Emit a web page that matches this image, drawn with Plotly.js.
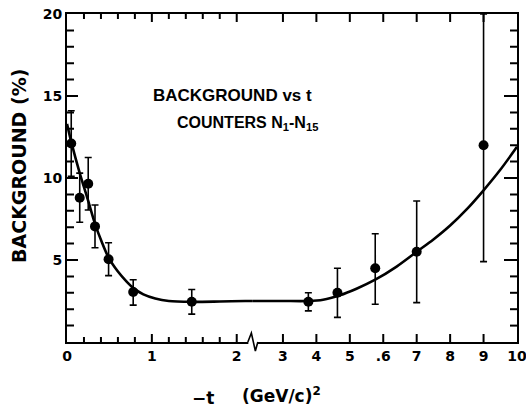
<!DOCTYPE html>
<html>
<head>
<meta charset="utf-8">
<script src="https://cdn.plot.ly/plotly-3.0.1.min.js"></script>
<style>
  html, body { margin: 0; padding: 0; background: #fff; }
  #plot { width: 526px; height: 413px; }
</style>
</head>
<body>
<div id="plot"></div>
<script>
// Measured background fraction vs momentum transfer -t, counters N1-N15
const t      = [0.05, 0.15, 0.25, 0.33, 0.49, 0.78, 1.47, 3.76, 4.63, 5.76, 7.0, 9.0];
const bg     = [12.1, 8.8, 9.65, 7.05, 5.05, 3.05, 2.45, 2.45, 3.0, 4.5, 5.5, 12.0];
const errHi  = [2.0, 1.5, 1.6, 1.3, 1.0, 0.75, 0.75, 0.55, 1.5, 2.1, 3.1, 8.0];
const errLo  = [2.0, 1.5, 1.6, 1.3, 1.0, 0.8, 0.75, 0.55, 1.5, 2.2, 3.1, 7.1];

// Smooth hand fit through the points
const fitT  = [0, 0.05, 0.15, 0.25, 0.33, 0.41, 0.49, 0.6, 0.7, 0.78, 0.9, 1.04, 1.2, 1.47, 1.8, 2.1, 2.2,
               3.0, 3.76, 4.2, 4.7, 5.2, 5.76, 6.4, 7.0, 7.5, 8.0, 8.5, 9.0, 9.5, 10.0];
const fitBg = [13.3, 12.2, 10.3, 8.6, 7.2, 6.1, 5.15, 4.3, 3.7, 3.3, 2.9, 2.65, 2.5, 2.45, 2.47, 2.5, 2.5,
               2.5, 2.5, 2.58, 2.85, 3.25, 3.8, 4.6, 5.5, 6.25, 7.1, 8.1, 9.25, 10.5, 11.9];

// Tick labels
const yTickVals = [5, 10, 15, 20];
const yTickText = ['5', '10', '15', '20'];
const xLowTickVals = [0, 1, 2];
const xLowTickText = ['0', '1', '2'];
const xHighTickVals = [3, 4, 5, 6, 7, 8, 9, 10];
const xHighTickText = ['3', '4', '5', '.6', '7', '8', '9', '10'];

// Broken x axis: low segment [0, 2.19], high segment [2.1, 10]
const LOW_MAX = 2.19, HIGH_MIN = 2.1, X_MAX = 10, Y_MAX = 20, SPLIT = 0.413;

const W = 526, H = 413, M = { l: 67, r: 9, t: 14, b: 71 };
const PW = W - M.l - M.r, PH = H - M.t - M.b;
const px = x => (x - M.l) / PW;
const py = y => (H - M.b - y) / PH;

function pick(arr, idx) { return idx.map(i => arr[i]); }
const idxLow  = t.map((v, i) => i).filter(i => t[i] < LOW_MAX);
const idxHigh = t.map((v, i) => i).filter(i => t[i] >= LOW_MAX);
const fitLow  = fitT.map((v, i) => i).filter(i => fitT[i] <= 2.2);
const fitHigh = fitT.map((v, i) => i).filter(i => fitT[i] >= 2.1);

function pointsTrace(idx, xa, ya) {
  return {
    x: pick(t, idx), y: pick(bg, idx), xaxis: xa, yaxis: ya,
    type: 'scatter', mode: 'markers',
    marker: { color: '#000', size: 10 },
    error_y: { type: 'data', symmetric: false, array: pick(errHi, idx), arrayminus: pick(errLo, idx),
               color: '#000', thickness: 1.6, width: 3.5 }
  };
}
function fitTrace(idx, xa, ya) {
  return {
    x: pick(fitT, idx), y: pick(fitBg, idx), xaxis: xa, yaxis: ya,
    type: 'scatter', mode: 'lines',
    line: { color: '#000', width: 2.6, shape: 'spline', smoothing: 0.8 }
  };
}

// Inward tick marks on all four sides, laid out on each segment's own scale
const yPerPx = Y_MAX / PH;
const xLowPerPx = LOW_MAX / (SPLIT * PW);
const xHighPerPx = (X_MAX - HIGH_MIN) / ((1 - SPLIT) * PW);
function tickTrace(xa, ya) {
  return { x: [], y: [], xaxis: xa, yaxis: ya, type: 'scatter', mode: 'lines',
           line: { color: '#000', width: 2 }, hoverinfo: 'skip' };
}
const ticksLow = tickTrace('x', 'y');
const ticksHigh = tickTrace('x2', 'y2');
function seg(tr, x0, y0, x1, y1) { tr.x.push(x0, x1, null); tr.y.push(y0, y1, null); }
for (let k = 1; k * 0.2 < LOW_MAX; k++) {
  const v = Math.round(k * 2) / 10, l = (k % 5 === 0 ? 8 : 5) * yPerPx;
  seg(ticksLow, v, 0, v, l);
  seg(ticksLow, v, Y_MAX, v, Y_MAX - l);
}
xHighTickVals.filter(v => v < X_MAX).forEach(v => {
  const l = 8 * yPerPx;
  seg(ticksHigh, v, 0, v, l);
  seg(ticksHigh, v, Y_MAX, v, Y_MAX - l);
});
for (let v = 1; v < Y_MAX; v++) {
  seg(ticksLow, 0, v, (v % 5 === 0 ? 11 : 7) * xLowPerPx, v);
  seg(ticksHigh, X_MAX, v, X_MAX - (v % 5 === 0 ? 13 : 7) * xHighPerPx, v);
}

const data = [
  ticksLow, ticksHigh,
  fitTrace(fitLow, 'x', 'y'),
  fitTrace(fitHigh, 'x2', 'y2'),
  pointsTrace(idxLow, 'x', 'y'),
  pointsTrace(idxHigh, 'x2', 'y2')
];

const FONT = 'DejaVu Sans';
const axisBase = {
  showline: true, linecolor: '#000', linewidth: 2,
  showgrid: false, zeroline: false, ticks: '',
  ticklabeloverflow: 'allow',
  tickfont: { family: FONT, size: 14, color: '#000', weight: 'bold' }
};

// axis-break zigzag on the bottom axis
const bx = M.l + SPLIT * PW;
const zig = [[bx - 5, 342], [bx - 1.5, 333], [bx + 2.5, 351], [bx + 5, 342]];
const zigPath = 'M ' + zig.map(p => px(p[0]).toFixed(4) + ',' + py(p[1]).toFixed(4)).join(' L ');

const layout = {
  width: W, height: H,
  margin: M,
  showlegend: false,
  xaxis: Object.assign({}, axisBase, {
    domain: [0, SPLIT], range: [0, LOW_MAX], anchor: 'y', mirror: true,
    tickmode: 'array', tickvals: xLowTickVals, ticktext: xLowTickText
  }),
  xaxis2: Object.assign({}, axisBase, {
    domain: [SPLIT, 1], range: [HIGH_MIN, X_MAX], anchor: 'y2', mirror: true,
    tickmode: 'array', tickvals: xHighTickVals, ticktext: xHighTickText
  }),
  yaxis: Object.assign({}, axisBase, {
    domain: [0, 1], range: [0, Y_MAX], anchor: 'x', side: 'left',
    tickmode: 'array', tickvals: yTickVals, ticktext: yTickText
  }),
  yaxis2: Object.assign({}, axisBase, {
    domain: [0, 1], range: [0, Y_MAX], anchor: 'x2', side: 'right',
    showticklabels: false
  }),
  shapes: [
    { type: 'rect', xref: 'paper', yref: 'paper', layer: 'above',
      x0: px(bx - 4.5), x1: px(bx + 4.5), y0: py(344), y1: py(340),
      fillcolor: '#fff', line: { width: 0 } },
    { type: 'path', xref: 'paper', yref: 'paper', layer: 'above',
      path: zigPath, line: { color: '#000', width: 1.6 } }
  ],
  annotations: [
    { text: 'BACKGROUND vs t', xref: 'paper', yref: 'paper',
      x: px(151), y: py(95), xanchor: 'left', yanchor: 'middle', showarrow: false,
      font: { family: 'Liberation Sans', size: 17, color: '#000', weight: 'bold' } },
    { text: 'COUNTERS N<sub>1</sub>-N<sub>15</sub>', xref: 'paper', yref: 'paper',
      x: px(175), y: py(124), xanchor: 'left', yanchor: 'middle', showarrow: false,
      font: { family: 'Liberation Sans', size: 16, color: '#000', weight: 'bold' } },
    { text: 'BACKGROUND (%)', xref: 'paper', yref: 'paper', textangle: -90,
      x: px(19), y: py(166), xanchor: 'center', yanchor: 'middle', showarrow: false,
      font: { family: FONT, size: 19, color: '#000', weight: 'bold' } },
    { text: '−t', xref: 'paper', yref: 'paper',
      x: px(203), y: py(398), xanchor: 'center', yanchor: 'middle', showarrow: false,
      font: { family: FONT, size: 17, color: '#000', weight: 'bold' } },
    { text: '(GeV/c)<sup>2</sup>', xref: 'paper', yref: 'paper',
      x: px(240), y: py(395), xanchor: 'left', yanchor: 'middle', showarrow: false,
      font: { family: FONT, size: 17, color: '#000', weight: 'bold' } }
  ]
};

Plotly.newPlot('plot', data, layout, { staticPlot: true, displayModeBar: false });
</script>
</body>
</html>
